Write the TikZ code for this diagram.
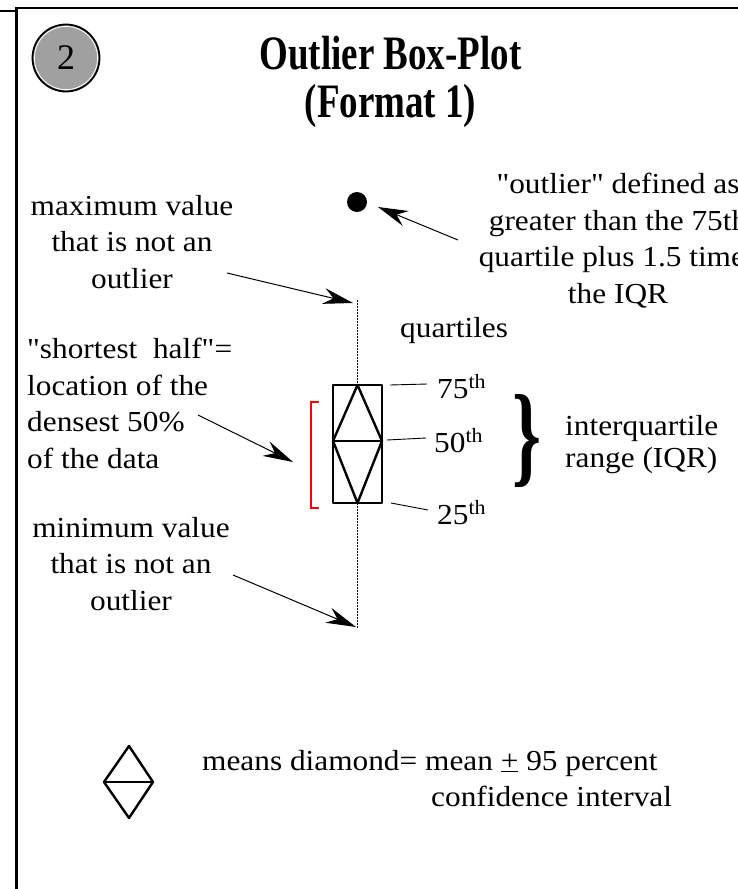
\documentclass[tikz,border=0pt]{standalone}
\usepackage{fontspec}
\usepackage{graphicx}
\setmainfont{Liberation Serif}[FakeStretch=1.08, Ligatures=TeXOff]
\newfontfamily\titlefont{Liberation Serif}[FakeStretch=0.77]
\newfontfamily\numfont{Liberation Serif}
\usetikzlibrary{arrows.meta}
\definecolor{circgray}{RGB}{160,160,160}
\tikzset{
  lbl/.style={font=\fontsize{29}{36.5}\selectfont, inner sep=0pt},
  arr/.style={-{Stealth[length=30pt,width=16pt,inset=10pt]}, line width=1pt},
  framel/.style={line width=2.6pt},
  boxl/.style={line width=2.4pt, line join=round},
  tick/.style={line width=0.9pt},
  whisk/.style={line width=1.3pt, dash pattern=on 1.5pt off 1.5pt},
}
\begin{document}
\begin{tikzpicture}[x=1pt,y=-1pt]
\useasboundingbox (0,0) rectangle (738,889);
\clip (0,0) rectangle (738,889);
% frame
\draw[framel] (0,11) -- (16.5,11);
\draw[framel] (16.5,889) -- (16.5,8) -- (738,8);
% number circle
\node[circle, draw, fill=circgray, minimum size=67pt, line width=1.8pt, inner sep=0pt,
      font=\numfont\fontsize{36}{36}\selectfont] (num) at (66,58) {2};
\draw[white, line width=0.8pt] (num.center) circle (31.6);
% title
\node[font=\titlefont\bfseries\fontsize{48}{48}\selectfont, align=center, anchor=base, inner sep=0pt]
  (title) at (390.5,117) {Outlier Box-Plot\\(Format 1)};
% outlier dot
\node[circle, fill=black, minimum size=20pt, inner sep=0pt] (dot) at (357,202) {};
% texts
\node[lbl, align=center, anchor=base] (maxv) at (132,288) {maximum value\\that is not an\\outlier};
\node[lbl, align=left, anchor=base west] (short) at (27,468) {"shortest\ \ half"=\\location of the\\densest 50\%\\of the data};
\node[lbl, align=center, anchor=base] (minv) at (131,610) {minimum value\\that is not an\\outlier};
\node[lbl, anchor=base west] (quart) at (400,337) {quartiles};
\node[lbl, align=center, anchor=base] (outl) at (618,303) {"outlier" defined as\\greater than the 75th\\quartile plus 1.5 times\\the IQR};
\node[lbl, align=left, anchor=base west, font=\fontsize{29}{32}\selectfont] (iqr) at (565,467) {interquartile\\range (IQR)};
\node[lbl, anchor=base west] (p75) at (437,398) {75\textsuperscript{th}};
\node[lbl, anchor=base west] (p50) at (434,452) {50\textsuperscript{th}};
\node[lbl, anchor=base west] (p25) at (437,524) {25\textsuperscript{th}};
% brace
\node[inner sep=0pt] (brace) at (527,441) {\resizebox*{29pt}{93pt}{\bfseries\}}};
% box plot
\coordinate (bTL) at (333,385);
\coordinate (bBR) at (382,503);
\coordinate (dT) at (357.5,385);
\coordinate (dB) at (357.5,503);
\coordinate (dL) at (333,441);
\coordinate (dR) at (382,441);
\draw[boxl] (bTL) rectangle (bBR);
\draw[boxl] (dT) -- (dL) -- (dB) -- (dR) -- cycle;
\draw[boxl] (dL) -- (dR);
\coordinate (wtop) at (357.5,300);
\coordinate (wbot) at (357.5,628);
\draw[whisk] (wtop) -- (dT);
\draw[whisk] (dB) -- (wbot);
% red bracket
\draw[red, line width=2pt] (319,402) -- (310.5,402) -- (310.5,508) -- (319,508);
% quartile ticks
\coordinate (t75a) at (390,385); \coordinate (t75b) at (427,384);
\coordinate (t50a) at (387,440); \coordinate (t50b) at (426,438);
\coordinate (t25a) at (391,503); \coordinate (t25b) at (428,510);
\draw[tick] (t75a) -- (t75b);
\draw[tick] (t50a) -- (t50b);
\draw[tick] (t25a) -- (t25b);
% arrows
\coordinate (amaxs) at (227,273); \coordinate (amaxe) at (353,303);
\coordinate (amins) at (233,575); \coordinate (amine) at (356,627);
\coordinate (adens) at (198,415); \coordinate (adene) at (293,462);
\coordinate (aouts) at (458,240); \coordinate (aoute) at (378,207);
\draw[arr] (amaxs) -- (amaxe);
\draw[arr] (amins) -- (amine);
\draw[arr] (adens) -- (adene);
\draw[arr] (aouts) -- (aoute);
% means diamond legend
\coordinate (mT) at (129,746);
\coordinate (mL) at (104,782);
\coordinate (mR) at (153,782);
\coordinate (mB) at (129,818);
\draw[boxl] (mT) -- (mL) -- (mB) -- (mR) -- cycle;
\draw[boxl] (mL) -- (mR);
\node[lbl, anchor=base west] (mdtext) at (202,770) {means diamond= mean \underline{+} 95 percent};
\node[lbl, anchor=base west] (citext) at (431,806) {confidence interval};
\end{tikzpicture}
\end{document}
